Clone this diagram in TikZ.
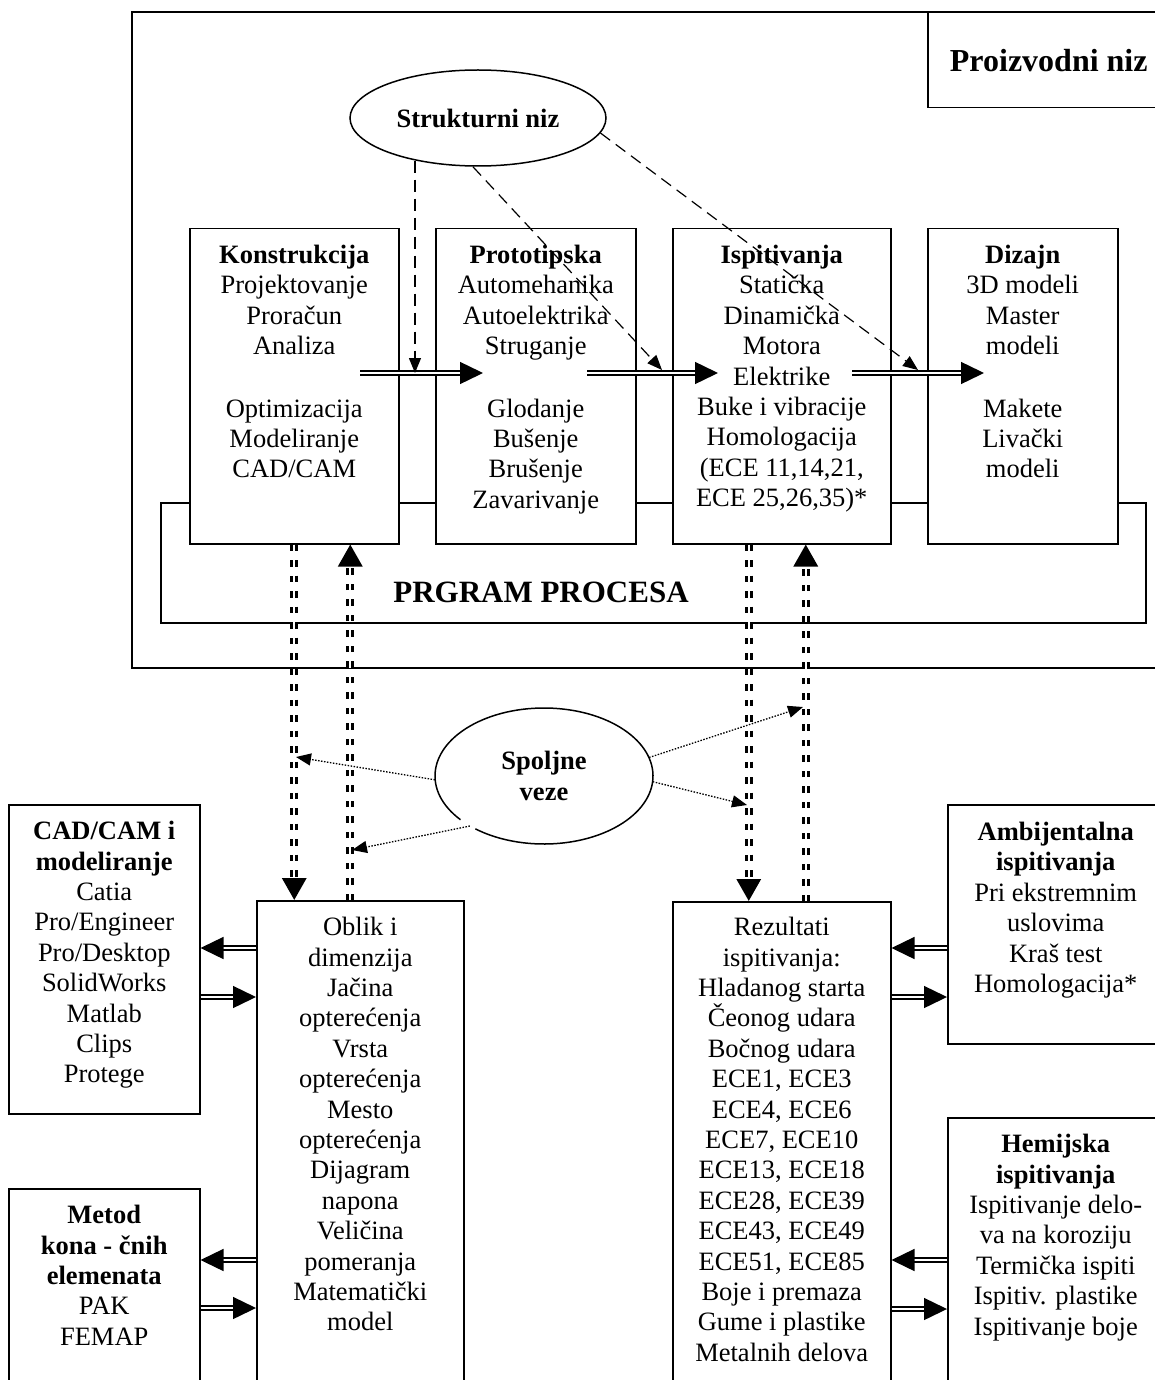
\documentclass[tikz,border=0pt]{standalone}
\usepackage{fontspec}
\setmainfont{Liberation Serif}
\usetikzlibrary{arrows.meta, shapes.geometric}

\begin{document}
\begin{tikzpicture}[x=1pt, y=-1pt,
  box/.style={draw, line width=1.5pt, fill=white, inner sep=0pt, anchor=north west},
  txt/.style={align=center, inner sep=0pt, anchor=north, font=\fontsize{26.5}{30.4}\selectfont},
  oval/.style={ellipse, inner sep=0pt, align=center, font=\fontsize{26.5}{30.4}\selectfont\bfseries},
  dblarr/.style={double, double distance=2.5pt, line width=1.4pt, -{Triangle[length=23pt,width=22pt]}},
  ddash/.style={double, double distance=1.8pt, line width=3.2pt, dash pattern=on 6.5pt off 9pt, -{Triangle[length=22pt,width=24pt]}},
  dsh/.style={line width=1.2pt, dash pattern=on 12pt off 7pt, -{Triangle[length=15pt,width=12pt]}},
  dots/.style={line width=1.3pt, dash pattern=on 1.5pt off 1.5pt, -{Triangle[length=15pt,width=12pt]}}]
\useasboundingbox (0,0) rectangle (1155,1380);
\clip (0,0) rectangle (1155,1380);

\draw[line width=1.5pt] (132,12) rectangle (1180,668);
\draw[line width=1.5pt] (161,503) rectangle (1146,623);
\node[anchor=base, font=\fontsize{31}{36}\selectfont\bfseries] (prg) at (541,602) {PRGRAM PROCESA};
\node[box, minimum width=242pt, minimum height=95pt, font=\fontsize{32}{36}\selectfont\bfseries] (prz) at (927,12) {Proizvodni niz};

\node[box, minimum width=209pt, minimum height=315pt] (kon) at (189,228) {};
\node[box, minimum width=200pt, minimum height=315pt] (pro) at (435,228) {};
\node[box, minimum width=218pt, minimum height=315pt] (isp) at (672,228) {};
\node[box, minimum width=190pt, minimum height=315pt] (diz) at (927,228) {};

\node[txt] (konT) at ([yshift=-17pt]kon.north) {\textbf{Konstrukcija}\\Projektovanje\\Proračun\\Analiza\\[32pt]Optimizacija\\Modeliranje\\CAD/CAM};
\node[txt] (proT) at ([yshift=-17pt]pro.north) {\textbf{Prototipska}\\Automehanika\\Autoelektrika\\Struganje\\[32pt]Glodanje\\Bušenje\\Brušenje\\Zavarivanje};
\node[txt] (ispT) at ([yshift=-17pt]isp.north) {\textbf{Ispitivanja}\\Statička\\Dinamička\\Motora\\Elektrike\\Buke i vibracije\\Homologacija\\(ECE 11,14,21,\\ECE 25,26,35)*};
\node[txt] (dizT) at ([yshift=-17pt]diz.north) {\textbf{Dizajn}\\3D modeli\\Master\\modeli\\[32pt]Makete\\Livački\\modeli};

\node[box, minimum width=191pt, minimum height=309pt] (cad) at (8,804) {};
\node[box, minimum width=191pt, minimum height=210pt] (met) at (8,1188) {};
\node[box, minimum width=207pt, minimum height=500pt] (obl) at (256,900) {};
\node[box, minimum width=218pt, minimum height=500pt] (rez) at (672,901) {};
\node[box, minimum width=216pt, minimum height=239pt] (amb) at (947,804) {};
\node[box, minimum width=216pt, minimum height=280pt] (hem) at (947,1117) {};

\node[txt] (cadT) at ([yshift=-17pt]cad.north) {\textbf{CAD/CAM i}\\\textbf{modeliranje}\\Catia\\Pro/Engineer\\Pro/Desktop\\SolidWorks\\Matlab\\Clips\\Protege};
\node[txt] (metT) at ([yshift=-17pt]met.north) {\textbf{Metod}\\\textbf{kona - čnih}\\\textbf{elemenata}\\PAK\\FEMAP};
\node[txt] (oblT) at ([yshift=-17pt]obl.north) {Oblik i\\dimenzija\\Jačina\\opterećenja\\Vrsta\\opterećenja\\Mesto\\opterećenja\\Dijagram\\napona\\Veličina\\pomeranja\\Matematički\\model};
\node[txt] (rezT) at ([yshift=-16pt]rez.north) {Rezultati\\ispitivanja:\\Hladanog starta\\Čeonog udara\\Bočnog udara\\ECE1, ECE3\\ECE4, ECE6\\ECE7, ECE10\\ECE13, ECE18\\ECE28, ECE39\\ECE43, ECE49\\ECE51, ECE85\\Boje i premaza\\Gume i plastike\\Metalnih delova};
\node[txt] (ambT) at ([yshift=-18pt]amb.north) {\textbf{Ambijentalna}\\\textbf{ispitivanja}\\Pri ekstremnim\\uslovima\\Kraš test\\Homologacija*};
\node[txt] (hemT) at ([yshift=-17pt]hem.north) {\textbf{Hemijska}\\\textbf{ispitivanja}\\Ispitivanje delo-\\va na koroziju\\Termička ispiti\\Ispitiv. plastike\\Ispitivanje boje};

\node[oval, draw, line width=1.5pt, minimum width=256pt, minimum height=96pt] (str) at (478,118) {Strukturni niz};
\node[oval, minimum width=218pt, minimum height=136pt] (spo) at (544,776) {Spoljne\\veze};
\draw[line width=1.5pt] ([shift={(140:109 and 68)}]spo.center) arc[start angle=140, end angle=489, x radius=109, y radius=68];

\coordinate (k1) at (360,373);
\coordinate (p1) at (483,373);
\coordinate (p2) at (587,373);
\coordinate (i1) at (718,373);
\coordinate (i2) at (852,373);
\coordinate (d1) at (984,373);
\coordinate (s2) at (662,370);
\coordinate (s3) at (918,370);
\coordinate (v1) at (296,757);
\coordinate (v2) at (352,850);
\coordinate (v3) at (803,707);
\coordinate (v4) at (747,805);

\draw[dblarr] (k1) -- (p1);
\draw[dblarr] (p2) -- (i1);
\draw[dblarr] (i2) -- (d1);

\draw[dsh] (str.214) -- (str.214 |- k1);
\draw[dsh] (str.264) -- (s2);
\draw[dsh] (str.353) -- (s3);

\draw[ddash] (kon.south) -- (kon.south |- obl.north);
\draw[ddash] ([xshift=-10pt]obl.north) -- ([xshift=56pt]kon.south);
\draw[ddash] ([xshift=-33pt]isp.south) -- ([xshift=-33pt]rez.north);
\draw[ddash] ([xshift=24pt]rez.north) -- ([xshift=24pt]isp.south);

\draw[dots] (spo.182) -- (v1);
\draw[dots] (spo.214) -- (v2);
\draw[dots] (spo.10) -- (v3);
\draw[dots] (spo.357) -- (v4);

\draw[dblarr] ([yshift=-48pt]obl.north west) -- ([yshift=-144pt]cad.north east);
\draw[dblarr] ([yshift=-193pt]cad.north east) -- ([yshift=-97pt]obl.north west);
\draw[dblarr] ([yshift=-360pt]obl.north west) -- ([yshift=-72pt]met.north east);
\draw[dblarr] ([yshift=-120pt]met.north east) -- ([yshift=-408pt]obl.north west);
\draw[dblarr] ([yshift=-144pt]amb.north west) -- ([yshift=-47pt]rez.north east);
\draw[dblarr] ([yshift=-96pt]rez.north east) -- ([yshift=-193pt]amb.north west);
\draw[dblarr] ([yshift=-143pt]hem.north west) -- ([yshift=-359pt]rez.north east);
\draw[dblarr] ([yshift=-408pt]rez.north east) -- ([yshift=-192pt]hem.north west);
\end{tikzpicture}
\end{document}
